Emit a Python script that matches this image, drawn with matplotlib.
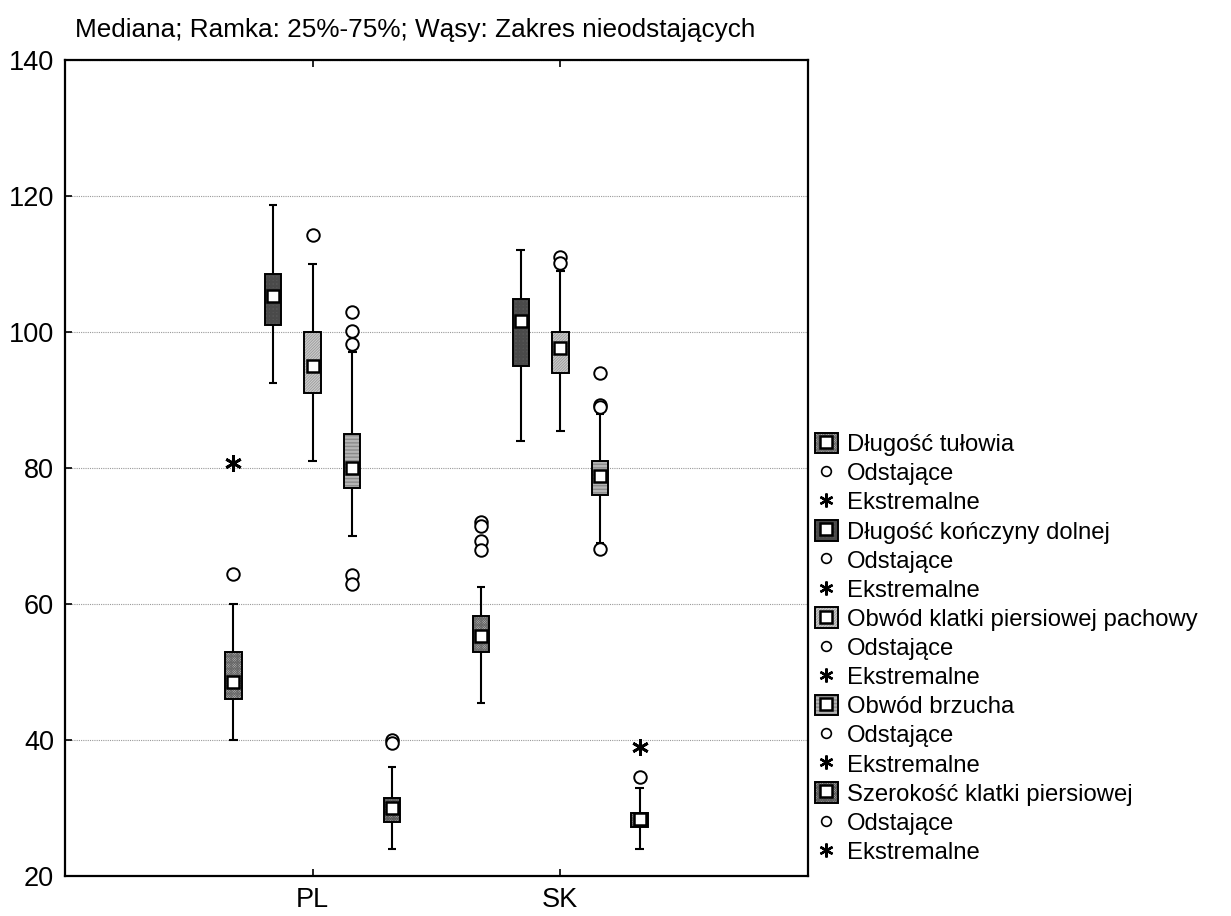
import numpy as np
import matplotlib

matplotlib.use("Agg")
import matplotlib.pyplot as plt
from matplotlib.patches import Rectangle
from matplotlib.lines import Line2D

plt.rcParams["font.family"] = ["Liberation Sans", "DejaVu Sans"]
plt.rcParams["hatch.linewidth"] = 0.6

groups = ["PL", "SK"]
series = ["Długość tułowia", "Długość kończyny dolnej",
          "Obwód klatki piersiowej pachowy", "Obwód brzucha",
          "Szerokość klatki piersiowej"]

# per group: one value per series
median = [[48.6, 105.3, 95.0, 80.0, 30.0],
          [55.3, 101.6, 97.6, 78.8, 28.4]]
q1 = [[46.0, 101.0, 91.0, 77.0, 28.0],
      [53.0, 95.0, 94.0, 76.0, 27.2]]
q3 = [[53.0, 108.5, 100.0, 85.0, 31.5],
      [58.3, 104.8, 100.0, 81.0, 29.3]]
whis_lo = [[40.0, 92.5, 81.0, 70.0, 24.0],
           [45.5, 84.0, 85.5, 69.0, 24.0]]
whis_hi = [[60.0, 118.7, 110.0, 97.0, 36.0],
           [62.5, 112.0, 109.0, 88.0, 33.0]]
outliers = [[[64.4], [], [114.2], [103.0, 100.2, 98.2, 64.2, 63.0], [40.0, 39.6]],
            [[72.0, 71.4, 69.2, 68.0], [], [111.0, 110.2], [94.0, 89.3, 88.9, 68.1], [34.5]]]
extremes = [[[80.7], [], [], [], []],
            [[], [], [], [], [39.0]]]

# face colour, hatch colour, hatch
styles = [("#c4c4c4", "#6a6a6a", "x" * 14),
          ("#a8a8a8", "#4a4a4a", "+" * 12),
          ("#cccccc", "#9a9a9a", "/" * 12),
          ("#e6e6e6", "#7a7a7a", "-" * 12),
          ("#bcbcbc", "#5a5a5a", "x" * 14)]

offsets = [-0.32, -0.16, 0.0, 0.16, 0.32]
box_w = 0.066
cap_w = 0.034
star = (6, 2, 0)

fig = plt.figure(figsize=(12.31, 9.16), dpi=100)
ax = fig.add_axes([65 / 1231, 40 / 916, 743 / 1231, 816 / 916])

for g in range(len(groups)):
    for s in range(len(series)):
        x = g + 1 + offsets[s]
        fc, hc, hatch = styles[s]
        ax.vlines(x, whis_lo[g][s], q1[g][s], color="black", lw=1.5, zorder=2)
        ax.vlines(x, q3[g][s], whis_hi[g][s], color="black", lw=1.5, zorder=2)
        ax.hlines([whis_lo[g][s], whis_hi[g][s]], x - cap_w / 2, x + cap_w / 2,
                  color="black", lw=1.5, zorder=2)
        h = q3[g][s] - q1[g][s]
        ax.add_patch(Rectangle((x - box_w / 2, q1[g][s]), box_w, h, facecolor=fc,
                               edgecolor=hc, hatch=hatch, lw=0, zorder=3))
        ax.add_patch(Rectangle((x - box_w / 2, q1[g][s]), box_w, h, fill=False,
                               edgecolor="black", lw=1.4, zorder=4))
        ax.plot(x, median[g][s], marker="s", ms=8.5, mfc="white", mec="black",
                mew=1.8, zorder=5)
        if outliers[g][s]:
            ax.plot([x] * len(outliers[g][s]), outliers[g][s], "o", ms=9,
                    mfc="white", mec="black", mew=1.4, zorder=5)
        if extremes[g][s]:
            ax.plot([x] * len(extremes[g][s]), extremes[g][s], ls="none",
                    marker=star, ms=12, mec="black", mew=2, zorder=5)

ax.set_xlim(0, 3)
ax.set_ylim(20, 140)
ax.set_xticks([1, 2])
ax.set_xticklabels(groups)
ax.set_yticks(np.arange(20, 141, 20))
ax.grid(axis="y", color="#9a9a9a", ls=(0, (1, 1)), lw=0.8)
ax.set_axisbelow(True)
ax.tick_params(direction="in", length=5, width=1.2, labelsize=19.5, pad=8,
               top=True, right=False)
for sp in ax.spines.values():
    sp.set_linewidth(1.6)

fig.text(75 / 1231, 1 - 30 / 916, "Mediana; Ramka: 25%-75%; Wąsy: Zakres nieodstających",
         fontsize=18.8, va="center", ha="left")

handles = []
labels = []
for s in range(len(series)):
    fc, hc, hatch = styles[s]
    bg = Rectangle((0, 0), 1, 1, facecolor=fc, edgecolor=hc, hatch=hatch, lw=0)
    fr = Rectangle((0, 0), 1, 1, fill=False, edgecolor="black", lw=1.4)
    med = Line2D([], [], ls="none", marker="s", ms=8.5, mfc="white", mec="black", mew=1.8)
    handles.append((bg, fr, med))
    labels.append(series[s])
    handles.append(Line2D([], [], ls="none", marker="o", ms=7, mfc="white",
                          mec="black", mew=1.2))
    labels.append("Odstające")
    handles.append(Line2D([], [], ls="none", marker=star, ms=10, mec="black", mew=1.7))
    labels.append("Ekstremalne")

fig.legend(handles, labels, loc="lower left",
           bbox_to_anchor=(815 / 1231, (916 - 864) / 916), frameon=False,
           fontsize=17.2, handlelength=0.95, handleheight=0.95, handletextpad=0.4,
           labelspacing=0.235, borderaxespad=0, borderpad=0)

fig.savefig("out.png", dpi=100)
